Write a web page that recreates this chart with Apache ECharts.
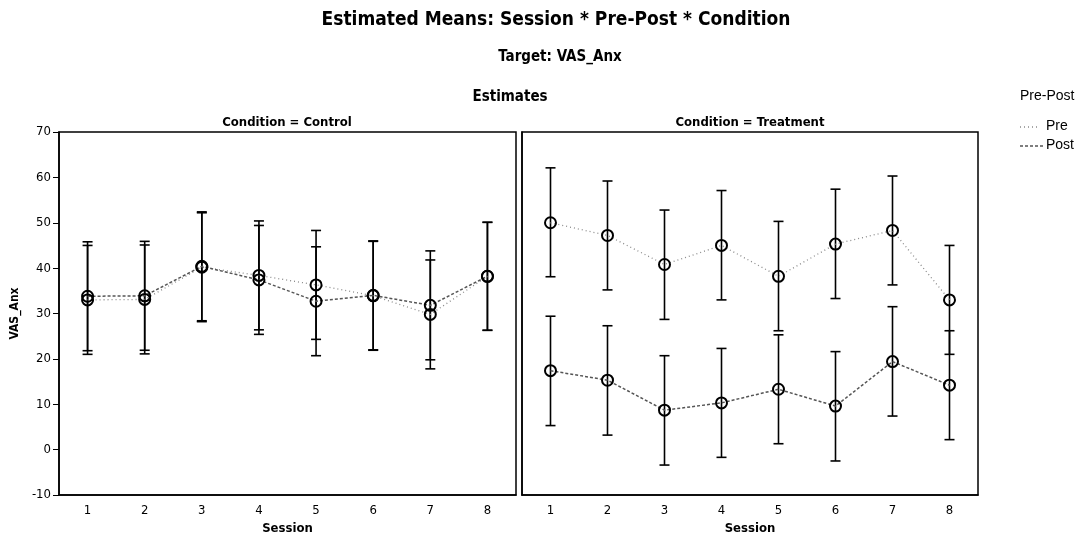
<!DOCTYPE html>
<html>
<head>
<meta charset="utf-8">
<script src="https://cdn.jsdelivr.net/npm/echarts@6/dist/echarts.min.js"></script>
<style>html,body{margin:0;padding:0;background:#fff}#c{width:1086px;height:543px}</style>
</head>
<body>
<div id="c"></div>
<script>
var sessions = ['1','2','3','4','5','6','7','8'];
var yTicks = [-10, 0, 10, 20, 30, 40, 50, 60, 70];

var controlPre     = [33.0, 33.1, 40.2, 38.4, 36.3, 33.9, 29.8, 38.2];
var controlPreLo   = [21.0, 21.1, 28.2, 26.4, 24.3, 21.9, 17.8, 26.3];
var controlPreHi   = [45.0, 45.1, 52.2, 50.4, 48.3, 45.9, 41.8, 50.1];
var controlPost    = [33.8, 33.9, 40.4, 37.4, 32.7, 34.0, 31.8, 38.2];
var controlPostLo  = [21.8, 21.9, 28.4, 25.4, 20.7, 22.0, 19.8, 26.3];
var controlPostHi  = [45.8, 45.9, 52.4, 49.4, 44.7, 46.0, 43.8, 50.1];

var treatPre       = [50.0, 47.2, 40.8, 45.0, 38.2, 45.3, 48.3, 33.0];
var treatPreLo     = [38.1, 35.2, 28.7, 33.0, 26.2, 33.3, 36.3, 21.0];
var treatPreHi     = [62.1, 59.2, 52.8, 57.1, 50.3, 57.4, 60.3, 45.0];
var treatPost      = [17.4, 15.3, 8.7, 10.3, 13.3, 9.6, 19.4, 14.2];
var treatPostLo    = [5.3, 3.2, -3.4, -1.7, 1.3, -2.5, 7.4, 2.2];
var treatPostHi    = [29.4, 27.3, 20.7, 22.3, 25.3, 21.6, 31.5, 26.2];

var FONT = '"DejaVu Sans Condensed", "Liberation Sans", Arial, sans-serif';
var FONT2 = '"Liberation Sans", Arial, sans-serif';

function errData(lo, hi) {
  return sessions.map(function (s, i) { return [i, lo[i], hi[i]]; });
}
function errSeries(name, xi, lo, hi) {
  return {
    type: 'custom', name: name, xAxisIndex: xi, yAxisIndex: xi, z: 3,
    data: errData(lo, hi),
    renderItem: function (params, api) {
      var x = api.value(0);
      var p1 = api.coord([x, api.value(1)]);
      var p2 = api.coord([x, api.value(2)]);
      var w = 5;
      var st = { stroke: '#000', lineWidth: 1.6 };
      return {
        type: 'group',
        children: [
          { type: 'line', shape: { x1: p1[0], y1: p1[1], x2: p2[0], y2: p2[1] }, style: st },
          { type: 'line', shape: { x1: p1[0] - w, y1: p1[1], x2: p1[0] + w, y2: p1[1] }, style: st },
          { type: 'line', shape: { x1: p2[0] - w, y1: p2[1], x2: p2[0] + w, y2: p2[1] }, style: st }
        ]
      };
    }
  };
}
var preLine = { color: '#8a8a8a', width: 1.3, type: [1, 3] };
var postLine = { color: '#555', width: 1.5, type: [3, 2] };
function lineSeries(name, xi, data, ls) {
  return {
    type: 'line', name: name, xAxisIndex: xi, yAxisIndex: xi, z: 4,
    data: data, symbol: 'circle', symbolSize: 11,
    itemStyle: { color: 'rgba(255,255,255,0)', borderColor: '#000', borderWidth: 2 },
    lineStyle: ls, animation: false
  };
}
function xAxis(gi) {
  return {
    type: 'category', gridIndex: gi, data: sessions, boundaryGap: true,
    name: 'Session', nameLocation: 'middle', nameGap: 25,
    nameTextStyle: { fontFamily: FONT, fontWeight: 'bold', fontSize: 13, color: '#000' },
    axisLine: { onZero: false, lineStyle: { color: '#000', width: 1.5 } },
    axisTick: { alignWithLabel: true, length: 5, lineStyle: { color: '#000', width: 1.5 } },
    axisLabel: { fontFamily: FONT, fontSize: 13, color: '#000', margin: 9 },
    splitLine: { show: false }
  };
}
function yAxis(gi, showLabels) {
  return {
    type: 'value', gridIndex: gi, min: -10, max: 70, interval: 10,
    name: showLabels ? 'VAS_Anx' : '', nameLocation: 'middle', nameGap: 38, nameRotate: 90,
    nameTextStyle: { fontFamily: FONT, fontWeight: 'bold', fontSize: 12, color: '#000' },
    axisLine: { show: true, onZero: false, lineStyle: { color: '#000', width: 1.5 } },
    axisTick: { show: showLabels, length: 6, lineStyle: { color: '#000', width: 1 } },
    axisLabel: { show: showLabels, fontFamily: FONT, fontSize: 13, color: '#000', margin: 8,
      formatter: function (v) { return yTicks.indexOf(v) >= 0 ? String(v) : ''; } },
    splitLine: { show: false }
  };
}
function ttl(text, x, y, size) {
  return { type: 'text', x: x, y: y, silent: true,
    style: { text: text, x: 0, y: 0, align: 'center', verticalAlign: 'middle',
      font: 'bold ' + size + 'px ' + FONT, fill: '#000' } };
}

var chart = echarts.init(document.getElementById('c'), null, { renderer: 'canvas' });
chart.setOption({
  backgroundColor: '#fff',
  animation: false,
  grid: [
    { left: 59, top: 132, width: 457, height: 363, show: true, borderColor: '#000', borderWidth: 1.5, backgroundColor: 'transparent' },
    { left: 522, top: 132, width: 456, height: 363, show: true, borderColor: '#000', borderWidth: 1.5, backgroundColor: 'transparent' }
  ],
  xAxis: [xAxis(0), xAxis(1)],
  yAxis: [yAxis(0, true), yAxis(1, false)],
  series: [
    errSeries('Pre CI', 0, controlPreLo, controlPreHi),
    errSeries('Post CI', 0, controlPostLo, controlPostHi),
    errSeries('Pre CI', 1, treatPreLo, treatPreHi),
    errSeries('Post CI', 1, treatPostLo, treatPostHi),
    lineSeries('Pre', 0, controlPre, preLine),
    lineSeries('Post', 0, controlPost, postLine),
    lineSeries('Pre', 1, treatPre, preLine),
    lineSeries('Post', 1, treatPost, postLine)
  ],
  graphic: [
    ttl('Estimated Means: Session * Pre-Post * Condition', 556, 20, 19),
    ttl('Target: VAS_Anx', 560, 57, 15),
    ttl('Estimates', 510, 97, 15),
    ttl('Condition = Control', 287, 123, 13),
    ttl('Condition = Treatment', 750, 123, 13),
    { type: 'text', left: 1020, top: 89, style: { text: 'Pre-Post', font: '14px ' + FONT2, fill: '#000' } },
    { type: 'line', shape: { x1: 1020, y1: 127, x2: 1040, y2: 127 }, style: { stroke: '#8a8a8a', lineWidth: 1.3, lineDash: [1, 3] } },
    { type: 'text', left: 1046, top: 119, style: { text: 'Pre', font: '14px ' + FONT2, fill: '#000' } },
    { type: 'line', shape: { x1: 1020, y1: 146, x2: 1043, y2: 146 }, style: { stroke: '#555', lineWidth: 1.5, lineDash: [3, 2] } },
    { type: 'text', left: 1046, top: 138, style: { text: 'Post', font: '14px ' + FONT2, fill: '#000' } }
  ]
});
</script>
</body>
</html>
